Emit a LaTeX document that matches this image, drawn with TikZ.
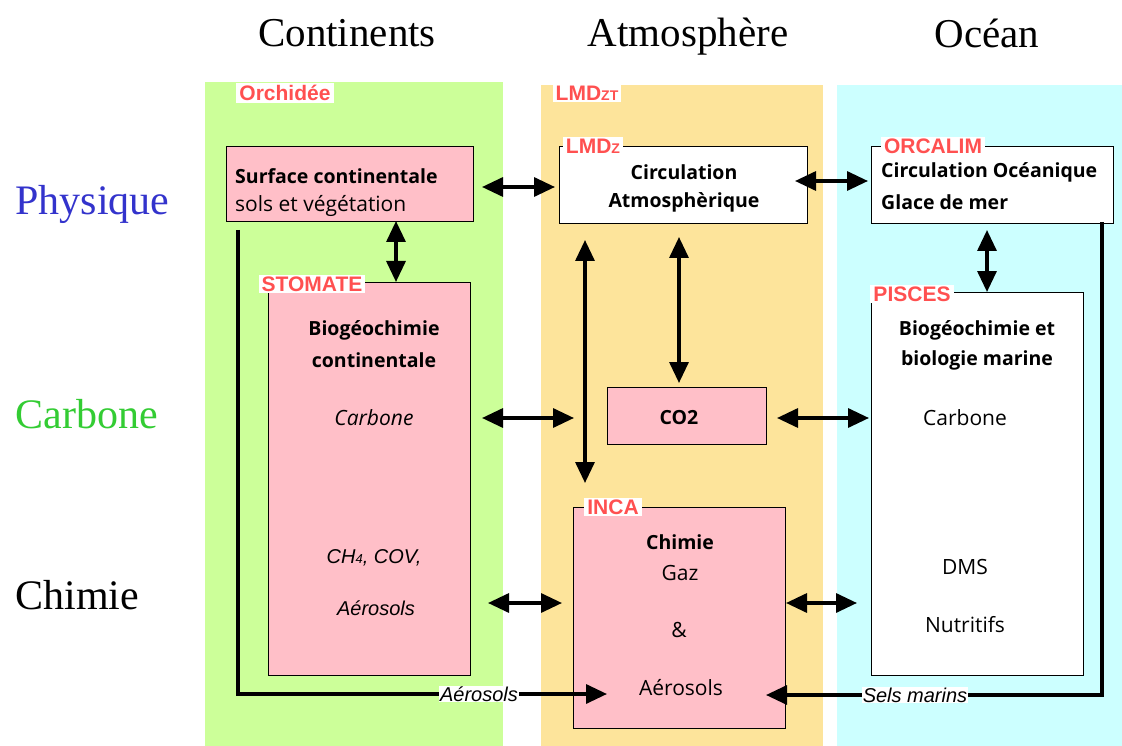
\documentclass[tikz,border=0pt]{standalone}
\usepackage{fontspec}
\setmainfont{Open Sans}
\newfontfamily\serf{Liberation Serif}
\newfontfamily\arial{Liberation Sans}
\usetikzlibrary{arrows.meta}
\definecolor{bggreen}{HTML}{CCFF99}
\definecolor{bgorange}{HTML}{FDE49B}
\definecolor{bgcyan}{HTML}{CCFFFF}
\definecolor{boxpink}{HTML}{FFBFC8}
\definecolor{labred}{HTML}{FF5050}
\definecolor{physblue}{HTML}{3333CC}
\definecolor{carbgreen}{HTML}{33CC33}
\tikzset{
  box/.style={draw=black, line width=1.2pt, anchor=north west, inner sep=0pt},
  pinkbox/.style={box, fill=boxpink},
  whitebox/.style={box, fill=white},
  lab/.style={fill=white, text=labred, inner xsep=3pt, inner ysep=2pt, font=\arial\bfseries\fontsize{21}{21}\selectfont},
  title/.style={font=\serf\fontsize{41}{41}\selectfont},
  rowlab/.style={anchor=west, font=\serf\fontsize{42}{42}\selectfont},
  bt/.style={font=\bfseries\fontsize{19.5}{19.5}\selectfont, inner sep=0pt},
  rt/.style={font=\fontsize{21}{21}\selectfont, inner sep=0pt},
  it/.style={font=\itshape\fontsize{21}{21}\selectfont, inner sep=0pt},
  ait/.style={font=\arial\itshape\fontsize{20}{20}\selectfont, inner sep=0pt},
  tip/.tip={Triangle[length=21pt,width=19pt]},
  dbl/.style={line width=3.3pt, tip-tip},
  one/.style={line width=3.3pt, -tip},
}
\begin{document}
\begin{tikzpicture}[x=1pt,y=-1pt]
\useasboundingbox (0,0) rectangle (1122,746);
% backgrounds
\fill[bggreen] (205,82) rectangle (503,746);
\fill[bgorange] (541,85) rectangle (823,746);
\fill[bgcyan] (837,85) rectangle (1122,746);
% titles
\node[title] (tcont) at (347,33) {Continents};
\node[title] (tatm) at (688,37) {Atmosphère};
\node[title] (toce) at (987,33) {Océan};
\node[rowlab, text=physblue] (rphys) at (12,204) {Physique};
\node[rowlab, text=carbgreen] (rcarb) at (12,414) {Carbone};
\node[rowlab] (rchim) at (12,595) {Chimie};
% boxes
\node[pinkbox, minimum width=247pt, minimum height=75pt] (surf) at (226,146) {};
\node[pinkbox, minimum width=202pt, minimum height=393pt] (stom) at (268,282) {};
\node[whitebox, minimum width=248pt, minimum height=77pt] (circ) at (559,146) {};
\node[whitebox, minimum width=242pt, minimum height=77pt] (orca) at (871,146) {};
\node[whitebox, minimum width=212pt, minimum height=383pt] (pisc) at (871,292) {};
\node[pinkbox, minimum width=159pt, minimum height=57pt] (co2) at (607,387) {};
\node[pinkbox, minimum width=212pt, minimum height=221pt] (inca) at (573,507) {};
% labels
\node[lab] (lorch) at (285,93) {Orchidée};
\node[lab] (llmdzt) at (587,93) {LMD{\fontsize{14}{14}\selectfont ZT}};
\node[lab] (llmdz) at (593,146) {LMD{\fontsize{14}{14}\selectfont Z}};
\node[lab] (lorca) at (933,146) {ORCALIM};
\node[lab] (lstom) at (312,284) {STOMATE};
\node[lab] (lpisc) at (912,294) {PISCES};
\node[lab] (linca) at (613,507) {INCA};
% texts
\node[bt, anchor=west] (s1) at (235,176) {Surface continentale};
\node[rt, anchor=west] (s2) at (235,206) {sols et végétation};
\node[bt] (b1) at (374,330) {Biogéochimie};
\node[bt] (b2) at (374,360) {continentale};
\node[it] (b3) at (374,418) {Carbone};
\node[ait] (b4) at (374,558) {CH{\fontsize{13}{13}\selectfont 4}, COV,};
\node[ait] (b5) at (376,608) {Aérosols};
\node[bt] (c1) at (684,172) {Circulation};
\node[bt] (c2) at (684,202) {Atmosphèrique};
\node[bt, anchor=west] (o1) at (881,172) {Circulation Océanique};
\node[bt, anchor=west] (o2) at (881,202) {Glace de mer};
\node[bt] (p1) at (977,330) {Biogéochimie et};
\node[bt] (p2) at (977,360) {biologie marine};
\node[rt] (p3) at (965,418) {Carbone};
\node[rt] (p4) at (965,567) {DMS};
\node[rt] (p5) at (965,625) {Nutritifs};
\node[bt] (k1) at (679,418) {CO2};
\node[bt] (i1) at (680,542) {Chimie};
\node[rt] (i2) at (680,573) {Gaz};
\node[rt] (i3) at (679,630) {\&};
\node[rt] (i4) at (681,688) {Aérosols};
% arrow end coordinates
\coordinate (a1l) at (482,187); \coordinate (a1r) at (555,187);
\coordinate (a2l) at (795,181); \coordinate (a2r) at (868,181);
\coordinate (a3t) at (396,221); \coordinate (a3b) at (396,282);
\coordinate (a4t) at (679,237); \coordinate (a4b) at (679,383);
\coordinate (a5t) at (585,240); \coordinate (a5b) at (585,483);
\coordinate (a6t) at (987,230); \coordinate (a6b) at (987,292);
\coordinate (a7l) at (482,418); \coordinate (a7r) at (574,418);
\coordinate (a8l) at (777,418); \coordinate (a8r) at (869,418);
\coordinate (a9l) at (488,603); \coordinate (a9r) at (562,603);
\coordinate (a10l) at (786,603); \coordinate (a10r) at (857,603);
\coordinate (aer0) at (238,230); \coordinate (aer1) at (238,694); \coordinate (aer2) at (607,694);
\coordinate (sel0) at (1102,222); \coordinate (sel1) at (1102,695); \coordinate (sel2) at (766,695);
% arrows
\draw[dbl] (a1l) -- (a1r);
\draw[dbl] (a2l) -- (a2r);
\draw[dbl] (a3t) -- (a3b);
\draw[dbl] (a4t) -- (a4b);
\draw[dbl] (a5t) -- (a5b);
\draw[dbl] (a6t) -- (a6b);
\draw[dbl] (a7l) -- (a7r);
\draw[dbl] (a8l) -- (a8r);
\draw[dbl] (a9l) -- (a9r);
\draw[dbl] (a10l) -- (a10r);
\draw[one] (aer0) -- (aer1) -- (aer2);
\draw[one] (sel0) -- (sel1) -- (sel2);
\node[ait, fill=white, inner sep=1pt] (laer) at (479,694) {Aérosols};
\node[ait, fill=white, inner sep=1pt] (lsel) at (915,695) {Sels marins};
\end{tikzpicture}
\end{document}
